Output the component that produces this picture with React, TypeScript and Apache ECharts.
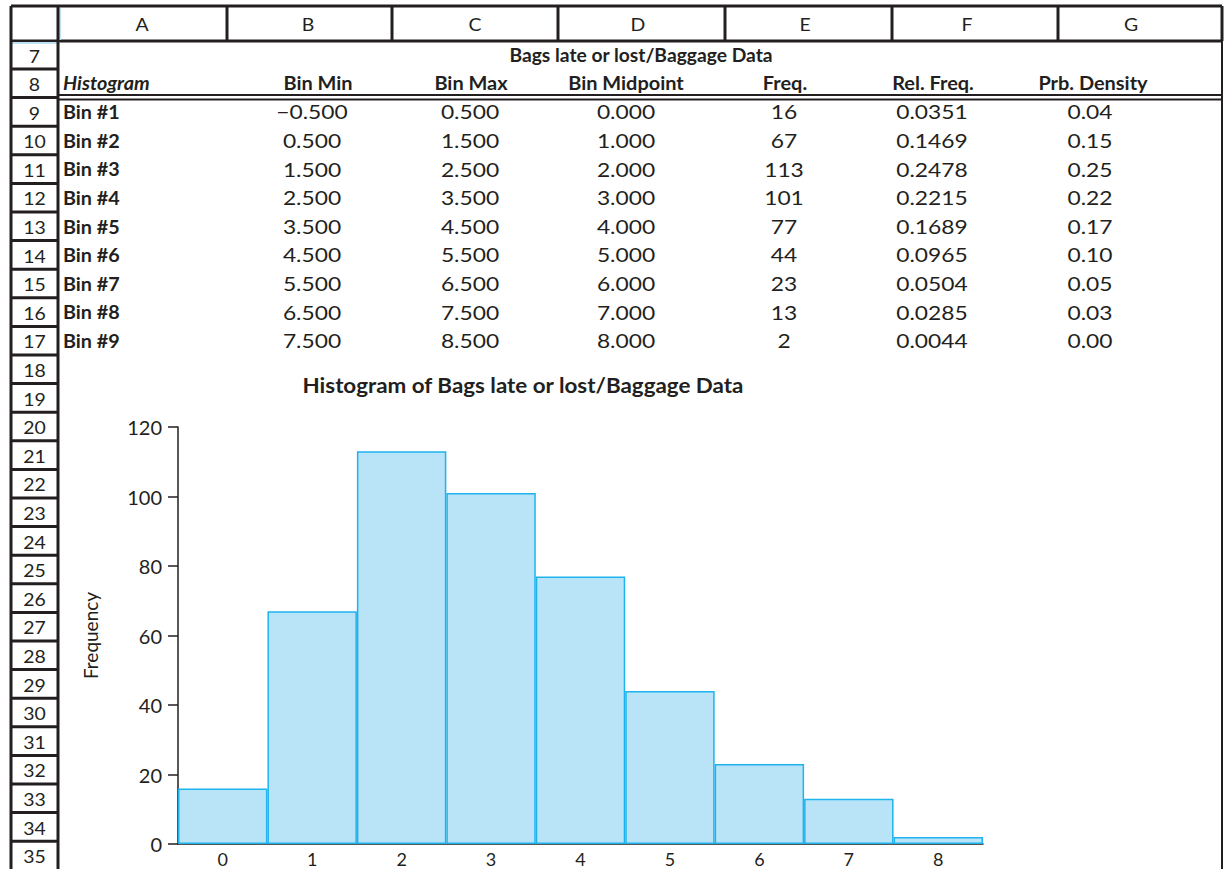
import React, { useEffect, useRef } from "react";
import * as echarts from "echarts";

// Histogram table: Bags late or lost / Baggage Data
const binLabels = ["Bin #1", "Bin #2", "Bin #3", "Bin #4", "Bin #5", "Bin #6", "Bin #7", "Bin #8", "Bin #9"];
const binMin = [-0.5, 0.5, 1.5, 2.5, 3.5, 4.5, 5.5, 6.5, 7.5];
const binMax = [0.5, 1.5, 2.5, 3.5, 4.5, 5.5, 6.5, 7.5, 8.5];
const binMid = [0, 1, 2, 3, 4, 5, 6, 7, 8];
const freq = [16, 67, 113, 101, 77, 44, 23, 13, 2];
const relFreq = [0.0351, 0.1469, 0.2478, 0.2215, 0.1689, 0.0965, 0.0504, 0.0285, 0.0044];
const prbDensity = [0.04, 0.15, 0.25, 0.22, 0.17, 0.1, 0.05, 0.03, 0.0];

const columnLetters = ["A", "B", "C", "D", "E", "F", "G"];
const headerLabels = ["Bin Min", "Bin Max", "Bin Midpoint", "Freq.", "Rel. Freq.", "Prb. Density"];
const yTicks = { min: 0, max: 120, step: 20 };
const chartTitle = "Histogram of Bags late or lost/Baggage Data";
const tableTitle = "Bags late or lost/Baggage Data";

const INK = "#231f20";
const FONT = "Lato";

// sheet geometry
const SHEET_LEFT = 11;
const ROWHDR_RIGHT = 58;
const SHEET_RIGHT = 1222;
const TOP = 6;
const HDR_BOTTOM = 41;
const ROW9_TOP = 97.6;
const ROW_H = 28.6;
const colLines = [58, 227, 392, 558, 725, 892, 1058, 1222];
const letterCenters = [142, 308, 475, 638, 805, 967, 1131];
const headerCenters = [318, 471, 626, 785, 933, 1093];
const valueCenters = [312, 470, 626, 784, 932, 1090];

function rowCenter(n: number): number {
  if (n === 7) return 55;
  if (n === 8) return 83;
  return ROW9_TOP + (n - 9) * ROW_H + ROW_H / 2;
}

function fmt(v: number, d: number): string {
  const s = Math.abs(v).toFixed(d);
  return v < 0 ? "\u2212" + s : s;
}

function line(x1: number, y1: number, x2: number, y2: number, w: number, color = INK) {
  return { type: "line", silent: true, shape: { x1, y1, x2, y2 }, style: { stroke: color, lineWidth: w } };
}

function text(t: string, x: number, y: number, font: string, align = "center", sx = 1) {
  return {
    type: "text",
    silent: true,
    x,
    y,
    scaleX: sx,
    style: { text: t, fill: INK, font, textAlign: align, textVerticalAlign: "middle" },
  };
}

function buildSheet() {
  const els: any[] = [];
  // column header band
  els.push(line(SHEET_LEFT, TOP, SHEET_RIGHT, TOP, 3));
  els.push(line(SHEET_LEFT, HDR_BOTTOM, SHEET_RIGHT, HDR_BOTTOM, 3));
  colLines.forEach((x, i) => {
    if (i === 0) return;
    els.push(line(x, TOP, x, HDR_BOTTOM, 3));
  });
  columnLetters.forEach((c, i) => {
    els.push(text(c, letterCenters[i], (TOP + HDR_BOTTOM) / 2 + 1, `18px ${FONT}`, "center", 1.08));
  });
  // selection highlight at the corner cell
  els.push(line(60, TOP + 2, 60, HDR_BOTTOM - 1, 2, "#bfe3f5"));
  els.push(line(SHEET_LEFT, HDR_BOTTOM + 2, 60, HDR_BOTTOM + 2, 2, "#bfe3f5"));

  // row header column
  els.push(line(SHEET_LEFT, TOP, SHEET_LEFT, 869, 3));
  els.push(line(ROWHDR_RIGHT, TOP, ROWHDR_RIGHT, 869, 3));
  els.push(line(SHEET_RIGHT, TOP, SHEET_RIGHT, 869, 2));
  const rowEdges = [69];
  for (let n = 9; n <= 35; n++) rowEdges.push(ROW9_TOP + (n - 9) * ROW_H);
  rowEdges.forEach((y) => els.push(line(SHEET_LEFT, y, ROWHDR_RIGHT, y, 3)));
  for (let n = 7; n <= 35; n++) {
    els.push(text(String(n), 34.5, rowCenter(n) + 1, `18px ${FONT}`, "center", 1.08));
  }

  // double rule under the header row of the table
  els.push(line(ROWHDR_RIGHT, 95, SHEET_RIGHT, 95, 2));
  els.push(line(ROWHDR_RIGHT, 99.5, SHEET_RIGHT, 99.5, 2));

  // table titles
  els.push(text(tableTitle, 641, rowCenter(7), `bold 18px ${FONT}`, "center", 1.07));
  els.push(text("Histogram", 63, rowCenter(8), `italic bold 19px ${FONT}`, "left", 1.04));
  headerLabels.forEach((h, i) =>
    els.push(text(h, headerCenters[i], rowCenter(8), `bold 19px ${FONT}`, "center", 1.05))
  );

  // table body
  binLabels.forEach((lab, i) => {
    const y = rowCenter(9 + i);
    els.push(text(lab, 63, y, `bold 19px ${FONT}`, "left", 1.04));
    const cells = [
      fmt(binMin[i], 3),
      fmt(binMax[i], 3),
      fmt(binMid[i], 3),
      String(freq[i]),
      relFreq[i].toFixed(4),
      prbDensity[i].toFixed(2),
    ];
    cells.forEach((c, j) => els.push(text(c, valueCenters[j], y, `20px ${FONT}`, "center", 1.14)));
  });

  // chart title
  els.push(text(chartTitle, 523, 385, `bold 20px ${FONT}`, "center", 1.12));
  return els;
}

export default function App() {
  const ref = useRef<HTMLDivElement>(null);

  useEffect(() => {
    if (!ref.current) return;
    const chart = echarts.init(ref.current, null, { renderer: "svg" });
    chart.setOption({
      animation: false,
      backgroundColor: "#ffffff",
      grid: { left: 178, right: 242, top: 427, bottom: 25, containLabel: false },
      xAxis: {
        type: "category",
        data: binMid.map((v) => String(v)),
        boundaryGap: true,
        axisLine: { show: true, lineStyle: { color: INK, width: 1.5 } },
        axisTick: { show: false },
        axisLabel: { fontFamily: FONT, fontSize: 18, color: INK, margin: 6 },
        splitLine: { show: false },
      },
      yAxis: {
        type: "value",
        min: yTicks.min,
        max: yTicks.max,
        interval: yTicks.step,
        name: "Frequency",
        nameLocation: "middle",
        nameRotate: 90,
        nameGap: 78,
        nameTextStyle: { fontFamily: FONT, fontSize: 19, color: INK },
        axisLine: { show: true, lineStyle: { color: INK, width: 1.5 } },
        axisTick: { show: true, length: 10, lineStyle: { color: INK, width: 1.5 } },
        axisLabel: { fontFamily: FONT, fontSize: 20, color: INK, margin: 16 },
        splitLine: { show: false },
      },
      series: [
        {
          type: "bar",
          data: freq,
          barWidth: "100%",
          barCategoryGap: "0%",
          itemStyle: { color: "#b9e4f8", borderColor: "#1eb3ed", borderWidth: 1.5 },
        },
      ],
      graphic: buildSheet(),
    });
    return () => chart.dispose();
  }, []);

  return (
    <div
      ref={ref}
      style={{ position: "fixed", left: 0, top: 0, width: 1225, height: 869, background: "#fff" }}
    />
  );
}
